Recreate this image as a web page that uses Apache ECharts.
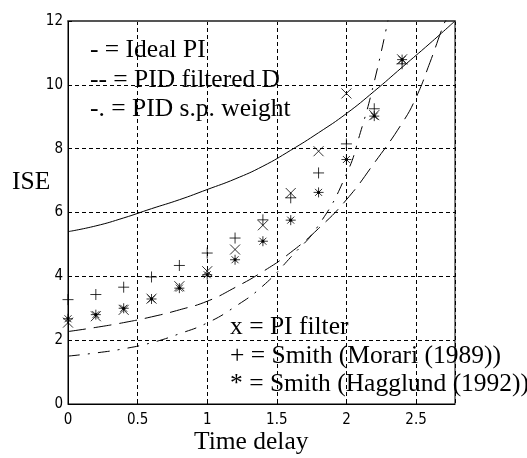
<!DOCTYPE html>
<html>
<head>
<meta charset="utf-8">
<script src="https://cdn.jsdelivr.net/npm/echarts@6/dist/echarts.min.js"></script>
<style>
html,body{margin:0;padding:0;background:#fff;}
#chart{width:527px;height:458px;}
</style>
</head>
<body>
<div id="chart"></div>
<script>
// ---- data ----
const xIdeal = [0, 0.2, 0.4, 0.6, 0.8, 1.0, 1.2, 1.4, 1.6, 1.8, 2.0, 2.2, 2.4, 2.6, 2.78];
const idealPI = [5.4, 5.58, 5.83, 6.12, 6.4, 6.72, 7.05, 7.45, 7.95, 8.5, 9.1, 9.8, 10.55, 11.3, 12.0];

const xFiltD = [0, 0.2, 0.4, 0.6, 0.8, 1.0, 1.2, 1.4, 1.6, 1.8, 2.0, 2.2, 2.4, 2.5, 2.6, 2.7, 2.72];
const pidFilteredD = [2.27, 2.4, 2.55, 2.73, 2.95, 3.22, 3.65, 4.15, 4.75, 5.5, 6.4, 7.55, 8.8, 9.6, 10.7, 11.9, 12.05];

const xSpW = [0, 0.2, 0.4, 0.6, 0.8, 1.0, 1.2, 1.4, 1.6, 1.8, 2.0, 2.1, 2.2, 2.3];
const pidSpWeight = [1.5, 1.6, 1.73, 1.92, 2.2, 2.54, 3.05, 3.7, 4.6, 5.6, 7.2, 8.5, 10.1, 12.05];

const xMarks = [0, 0.2, 0.4, 0.6, 0.8, 1.0, 1.2, 1.4, 1.6, 1.8, 2.0, 2.2, 2.4];
const piFilter = [2.55, 2.75, 2.95, 3.3, 3.69, 4.16, 4.84, 5.6, 6.61, 7.92, 9.73, 9.05, 10.8];
const smithMorari = [3.27, 3.43, 3.66, 3.98, 4.34, 4.73, 5.2, 5.77, 6.46, 7.24, 8.15, 9.25, 10.66];
const smithHagglund = [2.67, 2.8, 3.0, 3.29, 3.63, 4.05, 4.52, 5.1, 5.76, 6.63, 7.66, 9.02, 10.79];

const legendTop = ['- = Ideal PI', '-- = PID filtered D', '-. = PID s.p. weight'];
const legendBottom = ['x = PI filter', '+ = Smith (Morari (1989))', '* = Smith (Hagglund (1992))'];
const xTitle = 'Time delay';
const yTitle = 'ISE';

// ---- build ----
const pairs = (xs, ys) => xs.map((x, i) => [x, ys[i]]);
const SERIF = '"Liberation Serif", "Times New Roman", serif';
const TICKFONT = '"Liberation Sans Narrow", "DejaVu Sans Condensed", "Liberation Sans", sans-serif';

const symX = 'path://M0,0L10,10M10,0L0,10';
const symPlus = 'path://M5,0L5,10M0,5L10,5';
const symStar = 'path://M5,0L5,10M0,5L10,5M1.5,1.5L8.5,8.5M8.5,1.5L1.5,8.5M4,4L6,4L6,6L4,6Z';

function lineSeries(data, type) {
  return {
    type: 'line', data: data, smooth: 0.5, showSymbol: false,
    symbol: 'none', silent: true, clip: true,
    lineStyle: { color: '#000', width: 1, type: type }
  };
}
function markSeries(data, sym, size) {
  return {
    type: 'scatter', data: data, symbol: sym, symbolSize: size, silent: true,
    itemStyle: { color: '#000', borderColor: '#000', borderWidth: 1 }
  };
}

const chart = echarts.init(document.getElementById('chart'), null, { renderer: 'canvas' });
const textStyle = (t, x, y, extra) => ({
  type: 'text', x: x, y: y, silent: true,
  style: Object.assign({ text: t, font: '25.5px ' + SERIF, fill: '#000', verticalAlign: 'middle' }, extra || {})
});

const graphics = [];
legendTop.forEach((t, i) => graphics.push(textStyle(t, 90, [50, 80, 109][i])));
legendBottom.forEach((t, i) => graphics.push(textStyle(t, 230, [327, 356, 384][i])));
graphics.push(textStyle(yTitle, 12, 182));
graphics.push(textStyle(xTitle, 194, 442));

chart.setOption({
  animation: false,
  backgroundColor: '#fff',
  grid: { left: 68, right: 72, top: 21, bottom: 54, show: true, borderColor: '#000', borderWidth: 1, backgroundColor: 'transparent' },
  xAxis: [{
    type: 'value', min: 0, max: 2.78, interval: 0.5,
    axisLine: { lineStyle: { color: '#000', width: 1 } },
    axisTick: { inside: true, length: 4, lineStyle: { color: '#000' } },
    axisLabel: { color: '#000', fontFamily: TICKFONT, fontSize: 15, margin: 9, showMaxLabel: false },
    splitLine: { show: true, lineStyle: { color: '#000', type: [4, 3], width: 1 } }
  }, {
    type: 'value', position: 'top', min: 0, max: 2.78, interval: 0.5,
    axisLine: { show: true, lineStyle: { color: '#555', width: 2 } },
    axisTick: { show: false },
    axisLabel: { show: false },
    splitLine: { show: false }
  }],
  yAxis: {
    type: 'value', min: 0, max: 12, interval: 2,
    axisLine: { show: true, lineStyle: { color: '#000', width: 1 } },
    axisTick: { show: true, inside: true, length: 4, lineStyle: { color: '#000' } },
    axisLabel: { color: '#000', fontFamily: TICKFONT, fontSize: 15, margin: 5 },
    splitLine: { show: true, lineStyle: { color: '#000', type: [4, 3], width: 1 } }
  },
  series: [
    lineSeries(pairs(xIdeal, idealPI), 'solid'),
    lineSeries(pairs(xFiltD, pidFilteredD), [18, 8]),
    lineSeries(pairs(xSpW, pidSpWeight), [12, 8, 2, 8]),
    markSeries(pairs(xMarks, piFilter), symX, 10),
    markSeries(pairs(xMarks, smithMorari), symPlus, 11),
    markSeries(pairs(xMarks, smithHagglund), symStar, 10)
  ],
  graphic: graphics
});
</script>
</body>
</html>
